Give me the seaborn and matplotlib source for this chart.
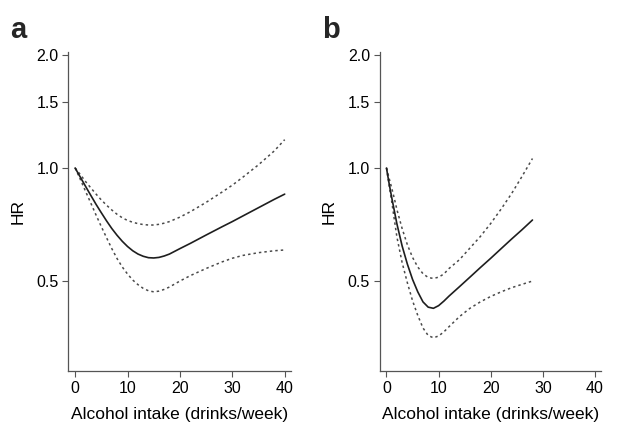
import numpy as np
import pandas as pd
import matplotlib
matplotlib.use("Agg")
import matplotlib.pyplot as plt
import seaborn as sns
from matplotlib.ticker import FixedLocator, FixedFormatter, NullLocator

# ---- data ----
a_x = [0, 1, 2, 3, 4, 5, 6, 7, 8, 9, 10, 11, 12, 13, 14, 15, 16, 17, 18, 20, 22, 25, 28, 30, 32, 35, 38, 40]
a_hr = [1.0, 0.945, 0.893, 0.845, 0.80, 0.76, 0.723, 0.69, 0.662, 0.638, 0.618, 0.602, 0.59, 0.582, 0.577, 0.576,
        0.578, 0.583, 0.59, 0.61, 0.63, 0.663, 0.697, 0.72, 0.745, 0.784, 0.825, 0.852]
a_upper = [1.0, 0.96, 0.92, 0.885, 0.852, 0.822, 0.796, 0.773, 0.753, 0.737, 0.725, 0.717, 0.711, 0.707, 0.705,
           0.705, 0.708, 0.713, 0.72, 0.74, 0.765, 0.81, 0.862, 0.90, 0.945, 1.02, 1.11, 1.19]
a_lower = [1.0, 0.932, 0.866, 0.806, 0.749, 0.698, 0.652, 0.61, 0.574, 0.545, 0.522, 0.503, 0.489, 0.478, 0.471,
           0.468, 0.47, 0.475, 0.482, 0.5, 0.517, 0.54, 0.562, 0.575, 0.585, 0.595, 0.602, 0.605]

b_x = [0, 0.5, 1, 1.5, 2, 3, 4, 5, 6, 7, 8, 9, 10, 11, 12, 14, 16, 18, 20, 22, 24, 26, 28]
b_hr = [1.0, 0.91, 0.835, 0.77, 0.71, 0.62, 0.555, 0.505, 0.468, 0.44, 0.426, 0.423, 0.43, 0.442, 0.456,
        0.483, 0.512, 0.543, 0.575, 0.61, 0.647, 0.685, 0.727]
b_upper = [1.0, 0.94, 0.885, 0.83, 0.775, 0.69, 0.625, 0.578, 0.545, 0.523, 0.511, 0.508, 0.512, 0.522, 0.54,
           0.57, 0.612, 0.657, 0.712, 0.778, 0.855, 0.95, 1.06]
b_lower = [1.0, 0.9, 0.815, 0.73, 0.655, 0.56, 0.495, 0.443, 0.405, 0.375, 0.358, 0.353, 0.357, 0.366, 0.378,
           0.402, 0.423, 0.44, 0.455, 0.468, 0.48, 0.49, 0.50]

y_ticks = [0.5, 1.0, 1.5, 2.0]
y_tick_labels = ["0.5", "1.0", "1.5", "2.0"]
x_ticks = [0, 10, 20, 30, 40]
x_tick_labels = ["0", "10", "20", "30", "40"]
x_label = "Alcohol intake (drinks/week)"
y_label = "HR"
panel_labels = ["a", "b"]

# ---- style ----
sns.set_style("ticks")
plt.rcParams["font.family"] = ["Liberation Sans", "DejaVu Sans"]

fig = plt.figure(figsize=(6.24, 4.33), dpi=100)
ax_a = fig.add_axes([0.1095, 0.1432, 0.3568, 0.7367])
ax_b = fig.add_axes([0.6085, 0.1432, 0.3551, 0.7367])

spine_col = "#555555"
line_col = "#1e1e1e"
ci_col = "#4a4a4a"
dot_style = (0, (1.6, 2.0))

panels = [
    (ax_a, a_x, a_hr, a_upper, a_lower),
    (ax_b, b_x, b_hr, b_upper, b_lower),
]

for ax, xs, hr, up, lo in panels:
    df = pd.DataFrame({"x": xs, "HR": hr, "upper": up, "lower": lo})
    sns.lineplot(data=df, x="x", y="upper", ax=ax, color=ci_col, linewidth=1.1, linestyle=dot_style)
    sns.lineplot(data=df, x="x", y="lower", ax=ax, color=ci_col, linewidth=1.1, linestyle=dot_style)
    sns.lineplot(data=df, x="x", y="HR", ax=ax, color=line_col, linewidth=1.2)
    ax.set_yscale("log")
    ax.set_ylim(0.288, 2.037)
    ax.set_xlim(-1.3, 41.2)
    ax.yaxis.set_major_locator(FixedLocator(y_ticks))
    ax.yaxis.set_major_formatter(FixedFormatter(y_tick_labels))
    ax.yaxis.set_minor_locator(NullLocator())
    ax.xaxis.set_major_locator(FixedLocator(x_ticks))
    ax.xaxis.set_major_formatter(FixedFormatter(x_tick_labels))
    ax.xaxis.set_minor_locator(NullLocator())
    for s in ["top", "right"]:
        ax.spines[s].set_visible(False)
    for s in ["left", "bottom"]:
        ax.spines[s].set_color(spine_col)
        ax.spines[s].set_linewidth(0.9)
    ax.tick_params(direction="out", length=4, width=0.8, color=spine_col,
                   labelsize=11.5, labelcolor="black", pad=3)
    ax.set_xlabel(x_label, fontsize=12.5, labelpad=8, color="black")
    ax.set_ylabel(y_label, fontsize=12.5, labelpad=8, color="black")

fig.text(10 / 624, 1 - 38.5 / 433, panel_labels[0], fontsize=21, fontweight="bold", va="baseline", ha="left")
fig.text(322 / 624, 1 - 38.5 / 433, panel_labels[1], fontsize=21, fontweight="bold", va="baseline", ha="left")

fig.savefig("out.png", dpi=100)
